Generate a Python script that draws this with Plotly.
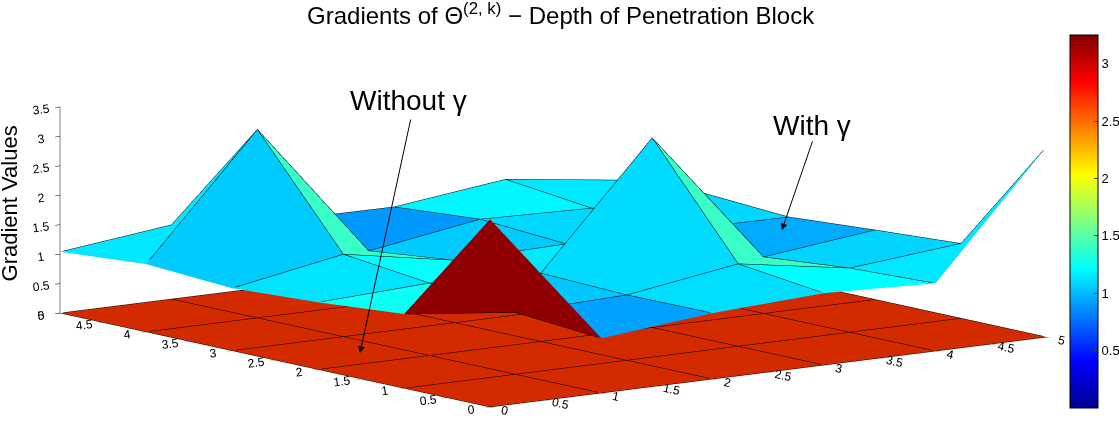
import plotly.graph_objects as go

# grid (rows of z = x index, columns = y index)
x_vals = [0, 1, 2, 3, 4, 5]
y_vals = [0, 1, 2, 3, 4, 5]

z_with = [
    [3.19, 1.26, 1.14, 1.06, 1.15, 1.04],
    [0.93, 1.05, 1.23, 1.40, 3.20, 1.26],
    [1.12, 1.11, 1.16, 1.06, 0.90, 1.10],
    [1.22, 1.40, 3.22, 1.10, 1.20, 1.09],
    [1.15, 1.09, 0.96, 1.10, 1.15, 1.32],
    [3.24, 1.27, 1.18, 1.08, 1.17, 1.07],
]
z_without = [[0.0] * 6 for _ in range(6)]

z_ticks = [0, 0.5, 1, 1.5, 2, 2.5, 3, 3.5]
xy_ticks = [0, 0.5, 1, 1.5, 2, 2.5, 3, 3.5, 4, 4.5, 5]
cbar_ticks = [0.5, 1, 1.5, 2, 2.5, 3]

jet = [[0, "rgb(0,0,143)"], [0.125, "rgb(0,0,255)"], [0.375, "rgb(0,255,255)"],
       [0.625, "rgb(255,255,0)"], [0.875, "rgb(255,0,0)"], [1, "rgb(128,0,0)"]]
cmax = 3.25

# view (orthographic, like matlab)
k = 3.41
aspect = dict(x=1.0 * k, y=1.018 * k, z=0.299 * k)
eye_dir = (-0.5959, -0.7858, 0.1658)
ranges = (5.0, 5.0, 3.5)


def mesh_arrays(z):
    nx, ny = len(x_vals), len(y_vals)
    X, Y, Z = [], [], []
    for i in range(nx):
        for j in range(ny):
            X.append(x_vals[i]); Y.append(y_vals[j]); Z.append(z[i][j])
    I, J, K, C = [], [], [], []
    for i in range(nx - 1):
        for j in range(ny - 1):
            a = i * ny + j
            b = (i + 1) * ny + j
            c = (i + 1) * ny + j + 1
            d = i * ny + j + 1
            # flat shading: colour of the face = value at its first corner
            I += [a, a]; J += [b, c]; K += [c, d]
            C += [z[i][j], z[i][j]]
    return X, Y, Z, I, J, K, C


def grid_lines(z, eps=0.034):
    # nudge the edge lines a little toward the camera so the faces don't hide them
    ox = eps * eye_dir[0] * ranges[0] / aspect["x"]
    oy = eps * eye_dir[1] * ranges[1] / aspect["y"]
    oz = eps * eye_dir[2] * ranges[2] / aspect["z"]
    lx, ly, lz = [], [], []
    for i in range(len(x_vals)):
        for j in range(len(y_vals)):
            lx.append(x_vals[i] + ox); ly.append(y_vals[j] + oy); lz.append(z[i][j] + oz)
        lx.append(None); ly.append(None); lz.append(None)
    for j in range(len(y_vals)):
        for i in range(len(x_vals)):
            lx.append(x_vals[i] + ox); ly.append(y_vals[j] + oy); lz.append(z[i][j] + oz)
        lx.append(None); ly.append(None); lz.append(None)
    return lx, ly, lz


flat = dict(ambient=1, diffuse=0, specular=0, roughness=1, fresnel=0)

fig = go.Figure()

X, Y, Z, I, J, K, C = mesh_arrays(z_without)
fig.add_trace(go.Mesh3d(x=X, y=Y, z=Z, i=I, j=J, k=K, color="#d42a00",
                        flatshading=True, lighting=flat, hoverinfo="skip",
                        showscale=False))

X, Y, Z, I, J, K, C = mesh_arrays(z_with)
fig.add_trace(go.Mesh3d(x=X, y=Y, z=Z, i=I, j=J, k=K, intensity=C, intensitymode="cell",
                        colorscale=jet, cmin=0, cmax=cmax, flatshading=True, lighting=flat,
                        hoverinfo="skip",
                        colorbar=dict(x=0.9562, xanchor="left", y=0.4813, yanchor="middle",
                                      len=0.8735, lenmode="fraction", thickness=28,
                                      xpad=0, ypad=0,
                                      outlinewidth=1, outlinecolor="black",
                                      tickvals=cbar_ticks, ticks="inside", ticklen=4,
                                      tickfont=dict(size=13, color="black"))))

for z in (z_without, z_with):
    lx, ly, lz = grid_lines(z)
    fig.add_trace(go.Scatter3d(x=lx, y=ly, z=lz, mode="lines",
                               line=dict(color="black", width=1),
                               hoverinfo="skip", showlegend=False))

axis_common = dict(showbackground=False, showgrid=False, zeroline=False, showline=True,
                   linecolor="black", linewidth=1, ticks="outside", ticklen=6,
                   tickcolor="black", tickfont=dict(size=12, color="black"),
                   showspikes=False, title=dict(text=""))

d = 10.0
fig.update_layout(
    width=1119, height=427,
    margin=dict(l=0, r=0, t=0, b=0, autoexpand=False),
    paper_bgcolor="white",
    font=dict(family="Liberation Sans", color="black"),
    showlegend=False,
    title=dict(text="Gradients of Θ<sup>(2, k)</sup> − Depth of Penetration Block",
               x=0.501, xanchor="center", y=0.9625, yanchor="middle",
               font=dict(size=24, color="black")),
    scene=dict(
        domain=dict(x=[0, 0.989], y=[0, 0.960]),
        xaxis=dict(range=[0, 5], tickvals=xy_ticks, **axis_common),
        yaxis=dict(range=[0, 5], tickvals=xy_ticks, **axis_common),
        zaxis=dict(range=[0, 3.5], tickvals=z_ticks, **axis_common),
        aspectmode="manual",
        aspectratio=aspect,
        camera=dict(eye=dict(x=eye_dir[0] * d, y=eye_dir[1] * d, z=eye_dir[2] * d),
                    center=dict(x=0, y=0, z=0), up=dict(x=0, y=0, z=1),
                    projection=dict(type="orthographic")),
    ),
)

fig.add_annotation(text="Without γ", x=0.3655, y=0.7635, xref="paper", yref="paper",
                   xanchor="center", yanchor="middle", showarrow=False, font=dict(size=28))
fig.add_annotation(text="With γ", x=0.7256, y=0.705, xref="paper", yref="paper",
                   xanchor="center", yanchor="middle", showarrow=False, font=dict(size=28))
fig.add_annotation(text="", x=0.3217, y=0.1733, xref="paper", yref="paper",
                   xanchor="center", yanchor="middle",
                   showarrow=True, ax=51, ay=-235, arrowhead=2, arrowsize=1.3,
                   arrowwidth=1, arrowcolor="black", standoff=0)
fig.add_annotation(text="", x=0.6988, y=0.4614, xref="paper", yref="paper",
                   xanchor="center", yanchor="middle",
                   showarrow=True, ax=31, ay=-90, arrowhead=2, arrowsize=1.3,
                   arrowwidth=1, arrowcolor="black", standoff=0)
fig.add_annotation(text="Gradient Values", x=0.0089, y=0.5234, xref="paper", yref="paper",
                   xanchor="center", yanchor="middle",
                   showarrow=False, textangle=-90, font=dict(size=22))

# the page's default 8px body margin would shift the figure
fig.write_html("out.html", config={"displayModeBar": False},
               post_script="document.body.style.margin='0px';")
